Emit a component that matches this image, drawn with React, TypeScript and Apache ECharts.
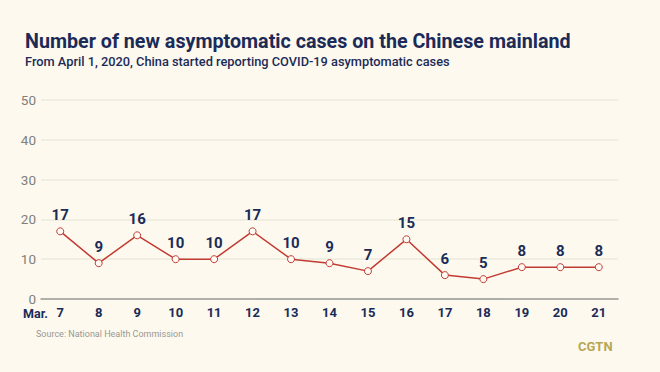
import React, { useEffect, useRef } from "react";
import * as echarts from "echarts";

const days = ["7", "8", "9", "10", "11", "12", "13", "14", "15", "16", "17", "18", "19", "20", "21"];
const cases = [17, 9, 16, 10, 10, 17, 10, 9, 7, 15, 6, 5, 8, 8, 8];
const yTicks = { min: 0, max: 50, interval: 10 };

const NAVY = "#1b2b58";
const RED = "#c23b32";
const BG = "#fdf9ee";

export default function App() {
  const ref = useRef<HTMLDivElement>(null);
  useEffect(() => {
    const chart = echarts.init(ref.current!, null, { renderer: "svg" });
    chart.setOption({
      animation: false,
      backgroundColor: BG,
      textStyle: { fontFamily: "Roboto" },
      title: [
        {
          text: "Number of new asymptomatic cases on the Chinese mainland",
          left: 25,
          top: 31,
          padding: 0,
          textStyle: { color: NAVY, fontSize: 19.7, fontWeight: "bold", fontFamily: "Roboto" },
        },
        {
          text: "From April 1, 2020, China started reporting COVID-19 asymptomatic cases",
          left: 25,
          top: 55,
          padding: 0,
          textStyle: { color: NAVY, fontSize: 12.8, fontWeight: 500, fontFamily: "Roboto" },
        },
      ],
      grid: { left: 41, right: 42, top: 100, bottom: 73 },
      xAxis: {
        type: "category",
        data: days,
        boundaryGap: true,
        axisLine: { lineStyle: { color: "#9a9a96", width: 1.5 } },
        axisTick: { alignWithLabel: true, length: 5, lineStyle: { color: "#9a9a96" } },
        axisLabel: { color: NAVY, fontSize: 13, fontWeight: "bold", margin: 7, fontFamily: "Roboto" },
      },
      yAxis: {
        type: "value",
        min: yTicks.min,
        max: yTicks.max,
        interval: yTicks.interval,
        axisLine: { show: false },
        axisTick: { show: false },
        axisLabel: { color: "#7f7f7b", fontSize: 13.5, margin: 5, fontFamily: "Roboto" },
        splitLine: { lineStyle: { color: "#ebe8dc", width: 1.5 } },
      },
      series: [
        {
          type: "line",
          data: cases,
          symbol: "circle",
          symbolSize: 7,
          showAllSymbol: true,
          lineStyle: { color: RED, width: 1.5 },
          itemStyle: { color: "#fffaf3", borderColor: RED, borderWidth: 1 },
          label: {
            show: true,
            position: "top",
            distance: 5,
            color: NAVY,
            fontSize: 15,
            fontWeight: "bold",
            fontFamily: "Roboto",
          },
        },
      ],
      graphic: [
        {
          type: "text",
          left: 23,
          top: 307,
          style: { text: "Mar.", fill: NAVY, font: "bold 12.5px Roboto" },
        },
        {
          type: "text",
          left: 36,
          top: 329,
          style: { text: "Source: National Health Commission", fill: "#999892", font: "9px Roboto" },
        },
        {
          type: "text",
          left: 578,
          top: 340,
          style: { text: "CGTN", fill: "#b9a653", font: "bold 13px Roboto" },
        },
      ],
    });
    return () => chart.dispose();
  }, []);
  return <div ref={ref} style={{ width: 660, height: 372, position: "fixed", left: 0, top: 0 }} />;
}
